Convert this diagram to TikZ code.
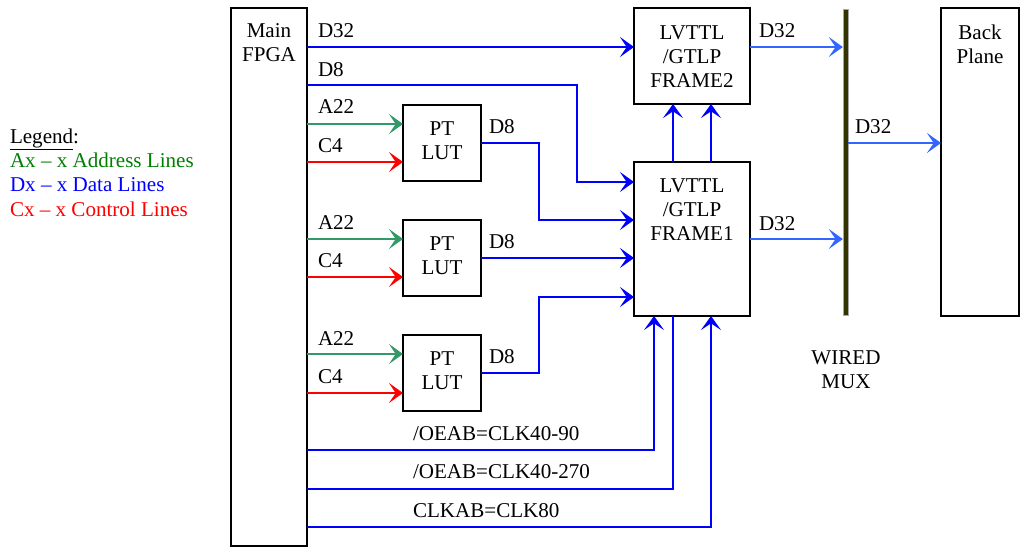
\documentclass[tikz,border=0pt]{standalone}
\usepackage{fontspec}
\setmainfont{Liberation Serif}
\usetikzlibrary{arrows.meta}
\definecolor{dblue}{RGB}{0,0,255}
\definecolor{lblue}{RGB}{51,102,255}
\definecolor{agreen}{RGB}{51,153,102}
\definecolor{lgreen}{RGB}{0,128,0}
\definecolor{cred}{RGB}{255,0,0}
\definecolor{barc}{RGB}{51,51,0}
\begin{document}
\begin{tikzpicture}[x=0.75pt,y=-0.75pt,
  every node/.style={font=\fontsize{15.8}{18}\selectfont, inner sep=0pt, outer sep=0pt},
  blk/.style={draw=black, line width=1.3pt, rectangle, inner sep=0pt},
  txt/.style={align=center},
  lbl/.style={anchor=base west},
  tipa/.style={-{Stealth[length=10.5pt,width=15pt,inset=5pt]}},
  data/.style={draw=dblue, line width=1.2pt},
  ldata/.style={draw=lblue, line width=1.2pt},
  addr/.style={draw=agreen, line width=1.2pt},
  ctrl/.style={draw=cred, line width=1.2pt}]
\useasboundingbox (0,0) rectangle (1024,547);

% blocks
\node[blk, minimum width=57pt, minimum height=403.5pt] (fpga) at (269,277) {};
\node[txt] (fpgat) at (269,43) {Main\\FPGA};
\node[blk, minimum width=58.5pt, minimum height=57pt] (lut1) at (442,143) {};
\node[blk, minimum width=58.5pt, minimum height=57pt] (lut2) at (442,258) {};
\node[blk, minimum width=58.5pt, minimum height=57pt] (lut3) at (442,373) {};
\node[txt] (lut1t) at (442,141) {PT\\LUT};
\node[txt] (lut2t) at (442,256) {PT\\LUT};
\node[txt] (lut3t) at (442,371) {PT\\LUT};
\node[blk, minimum width=87pt, minimum height=72pt] (frame2) at (692,56) {};
\node[txt] (frame2t) at (692,56.5) {LVTTL\\/GTLP\\FRAME2};
\node[blk, minimum width=87pt, minimum height=115.5pt] (frame1) at (692,239) {};
\node[txt] (frame1t) at (692,210) {LVTTL\\/GTLP\\FRAME1};
\node[blk, minimum width=58.5pt, minimum height=231pt] (bp) at (980,162) {};
\node[txt] (bpt) at (980,44) {Back\\Plane};
\node[draw=gray!70, line width=0.3pt, fill=barc, minimum width=4pt, minimum height=229.5pt] (bar) at (845.5,162) {};
\node[txt] (mux) at (846,370) {WIRED\\MUX};

% legend
\node[lbl] (leg) at (10,143) {\underline{Legend}:};
\node[lbl, text=lgreen] (lega) at (10,167) {Ax – x Address Lines};
\node[lbl, text=dblue] (legd) at (10,191.5) {Dx – x Data Lines};
\node[lbl, text=cred] (legc) at (10,216) {Cx – x Control Lines};

% FPGA -> frames
\draw[data,tipa] (fpga.east |- 0,47) -- (frame2.west |- 0,47);
\node[lbl] (l1) at (318,37) {D32};
\draw[data,tipa] (fpga.east |- 0,85) -- (577,85) -- (577,182) -- (frame1.west |- 0,182);
\node[lbl] (l2) at (318,76) {D8};

% LUT 1
\draw[addr,tipa] (fpga.east |- 0,124) -- (lut1.west |- 0,124);
\node[lbl] (l3) at (318,113) {A22};
\draw[ctrl,tipa] (fpga.east |- 0,162) -- (lut1.west |- 0,162);
\node[lbl] (l4) at (318,152) {C4};
\draw[data,tipa] (lut1.east |- 0,143) -- (539,143) -- (539,220) -- (frame1.west |- 0,220);
\node[lbl] (l5) at (489,133) {D8};

% LUT 2
\draw[addr,tipa] (fpga.east |- 0,239) -- (lut2.west |- 0,239);
\node[lbl] (l6) at (318,229) {A22};
\draw[ctrl,tipa] (fpga.east |- 0,277) -- (lut2.west |- 0,277);
\node[lbl] (l7) at (318,267) {C4};
\draw[data,tipa] (lut2.east |- 0,258) -- (frame1.west |- 0,258);
\node[lbl] (l8) at (489,248) {D8};

% LUT 3
\draw[addr,tipa] (fpga.east |- 0,354) -- (lut3.west |- 0,354);
\node[lbl] (l9) at (318,345) {A22};
\draw[ctrl,tipa] (fpga.east |- 0,393) -- (lut3.west |- 0,393);
\node[lbl] (l10) at (318,383) {C4};
\draw[data,tipa] (lut3.east |- 0,373) -- (539,373) -- (539,297) -- (frame1.west |- 0,297);
\node[lbl] (l11) at (489,363) {D8};

% frame1 -> frame2
\draw[data,tipa] (frame1.north -| 673,0) -- (frame2.south -| 673,0);
\draw[data,tipa] (frame1.north -| 711,0) -- (frame2.south -| 711,0);

% clocks
\draw[data,tipa] (fpga.east |- 0,450) -| (frame1.south -| 654,0);
\node[lbl] (l12) at (413,440) {/OEAB=CLK40-90};
\draw[data] (fpga.east |- 0,489) -| (frame1.south -| 673,0);
\node[lbl] (l13) at (413,478) {/OEAB=CLK40-270};
\draw[data,tipa] (fpga.east |- 0,527) -| (frame1.south -| 711,0);
\node[lbl] (l14) at (413,517) {CLKAB=CLK80};

% outputs
\draw[ldata,tipa] (frame2.east |- 0,47) -- (bar.west |- 0,47);
\node[lbl] (l15) at (759,37) {D32};
\draw[ldata,tipa] (frame1.east |- 0,239) -- (bar.west |- 0,239);
\node[lbl] (l16) at (759,230) {D32};
\draw[ldata,tipa] (bar.east |- 0,143) -- (bp.west |- 0,143);
\node[lbl] (l17) at (855,133) {D32};
\end{tikzpicture}
\end{document}
